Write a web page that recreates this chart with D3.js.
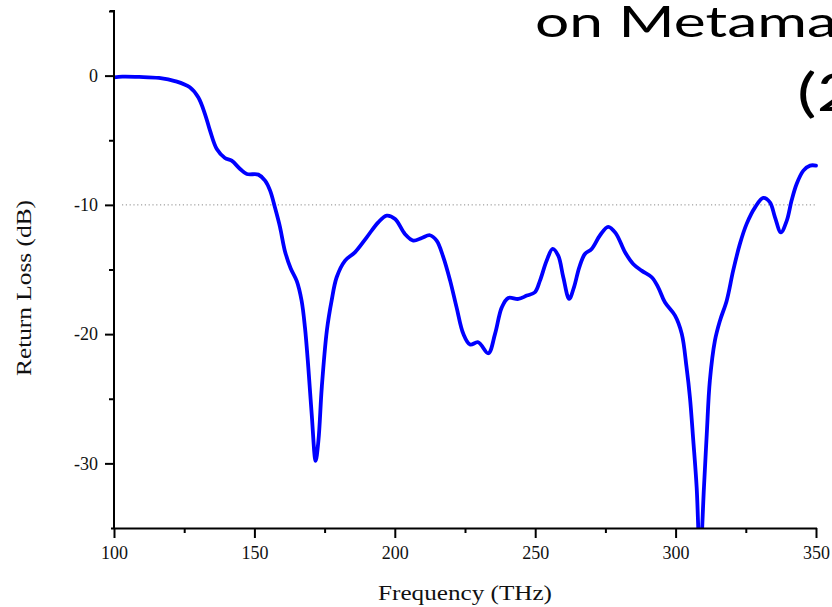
<!DOCTYPE html>
<html>
<head>
<meta charset="utf-8">
<script src="https://cdn.jsdelivr.net/npm/d3@7"></script>
<style>
  html, body { margin: 0; padding: 0; background: #fff; overflow: hidden; }
  svg { display: block; }
</style>
</head>
<body>
<svg id="chart" width="832" height="607"></svg>
<script>
// ---- Data ----
const frequency = [100, 103, 109, 116, 122, 127, 130, 132.4, 134.2, 136.6, 139.5, 141.9, 144.9, 147.3, 151.4, 153.8, 155.6, 157.3, 159.1, 160.9, 162.9, 165.1, 166.8, 168, 169.2, 170.4, 171.8, 172.8, 174, 175.8, 177.5, 179.3, 182.3, 185.8, 190, 194.1, 197.1, 200.1, 203.6, 206.6, 209.6, 212.5, 214.9, 217.3, 219.7, 222, 224.4, 226.8, 229.7, 233.3, 235.7, 238.1, 240.4, 244, 247, 249.9, 251.7, 254.1, 256.2, 258.2, 260, 262.1, 263.8, 265.7, 267.7, 270.1, 273.1, 276, 278.7, 282, 284.9, 287.9, 291.5, 293.8, 296.2, 299.8, 302.2, 303.9, 305.1, 306.3, 307.5, 308.7, 310.1, 311.1, 312.2, 314, 315.8, 318.2, 320.5, 322.9, 325.3, 328.3, 331.2, 333.6, 335.4, 337.5, 339.6, 341.3, 343.1, 345.5, 347.9, 350];
const returnLoss = [-0.13, -0.08, -0.1, -0.18, -0.44, -0.9, -1.68, -2.97, -4.26, -5.68, -6.37, -6.58, -7.22, -7.61, -7.66, -8.12, -8.9, -10.19, -11.7, -13.6, -14.9, -15.9, -17.4, -19.47, -22.57, -26.17, -29.8, -28.24, -24.11, -19.73, -17.41, -15.6, -14.31, -13.67, -12.51, -11.35, -10.83, -11.09, -12.25, -12.77, -12.56, -12.35, -12.77, -14.06, -15.86, -17.93, -19.98, -20.81, -20.63, -21.48, -19.98, -17.93, -17.2, -17.28, -17.02, -16.76, -15.86, -14.31, -13.41, -13.93, -15.6, -17.28, -16.38, -14.83, -13.8, -13.41, -12.35, -11.7, -12.2, -13.67, -14.57, -15.09, -15.6, -16.38, -17.54, -18.57, -19.98, -22.57, -24.89, -28.24, -31.85, -37.5, -31.85, -27.72, -23.6, -20.5, -18.96, -17.41, -15.09, -13.02, -11.47, -10.19, -9.46, -9.8, -10.96, -12.12, -11.22, -9.67, -8.38, -7.35, -6.96, -6.96];
const xTicks = [100, 150, 200, 250, 300, 350];
const xMinorTicks = [125, 175, 225, 275, 325];
const yTicks = [0, -10, -20, -30];
const yMinorTicks = [5, -5, -15, -25];
const referenceLevel = -10;
const xDomain = [100, 350];
const yDomain = [-35, 5];
const titleLines = ["on Metama", "(2"];

// ---- Layout ----
const svg = d3.select("#chart");
const plot = { left: 114, right: 816, top: 11, bottom: 528 };

const x = d3.scaleLinear().domain(xDomain).range([plot.left, plot.right]);
const y = d3.scaleLinear().domain(yDomain).range([plot.bottom, plot.top]);

const serif = "'Liberation Serif', 'Times New Roman', serif";
const fmt = d => String(d);

// Clip
svg.append("defs").append("clipPath").attr("id", "clip")
  .append("rect")
  .attr("x", plot.left).attr("y", plot.top)
  .attr("width", plot.right - plot.left + 2)
  .attr("height", plot.bottom - plot.top);

// Reference dotted line at -10 dB
svg.append("line")
  .attr("x1", plot.left + 8).attr("x2", plot.right)
  .attr("y1", y(referenceLevel)).attr("y2", y(referenceLevel))
  .attr("stroke", "#8a8a8a")
  .attr("stroke-width", 1)
  .attr("stroke-dasharray", "1.2,2.6");

// Curve
const data = frequency.map((f, i) => ({ f, v: returnLoss[i] }));
const line = d3.line()
  .x(d => x(d.f))
  .y(d => y(d.v))
  .curve(d3.curveCatmullRom.alpha(0.5));

svg.append("path")
  .datum(data)
  .attr("clip-path", "url(#clip)")
  .attr("fill", "none")
  .attr("stroke", "#0000ff")
  .attr("stroke-width", 3.8)
  .attr("stroke-linejoin", "round")
  .attr("stroke-linecap", "round")
  .attr("d", line);

// X axis
const xAxis = svg.append("g")
  .attr("transform", `translate(0,${plot.bottom})`)
  .call(d3.axisBottom(x).tickValues(xTicks).tickSize(10).tickPadding(8).tickFormat(fmt));
svg.append("g")
  .attr("transform", `translate(0,${plot.bottom})`)
  .call(d3.axisBottom(x).tickValues(xMinorTicks).tickSize(5).tickFormat(""))
  .call(g => g.select(".domain").remove());

// Y axis
const yAxis = svg.append("g")
  .attr("transform", `translate(${plot.left},0)`)
  .call(d3.axisLeft(y).tickValues(yTicks).tickSize(9).tickPadding(7).tickFormat(fmt));
svg.append("g")
  .attr("transform", `translate(${plot.left},0)`)
  .call(d3.axisLeft(y).tickValues(yMinorTicks).tickSize(5).tickFormat(""))
  .call(g => g.select(".domain").remove());

svg.selectAll(".domain").attr("stroke", "#000").attr("stroke-width", 2);
svg.selectAll(".tick line").attr("stroke", "#000").attr("stroke-width", 2);
svg.selectAll(".tick text")
  .attr("fill", "#111")
  .style("font-family", serif)
  .style("font-size", "18px");

xAxis.select(".domain").attr("d", `M${plot.left - 3},0.5H${plot.right + 1}`);
yAxis.select(".domain").attr("d", `M-4,${plot.top}H0V${plot.bottom}`);

// Axis titles
svg.append("text")
  .attr("x", 378).attr("y", 600)
  .attr("textLength", 174)
  .attr("lengthAdjust", "spacingAndGlyphs")
  .style("font-family", serif)
  .style("font-size", "21px")
  .attr("fill", "#111")
  .text("Frequency (THz)");

svg.append("text")
  .attr("transform", "translate(31,376) rotate(-90)")
  .attr("textLength", 176)
  .attr("lengthAdjust", "spacingAndGlyphs")
  .style("font-family", serif)
  .style("font-size", "21px")
  .attr("fill", "#111")
  .text("Return Loss (dB)");

// Slide title fragment (cut off at right edge, as in the reference)
svg.append("text")
  .attr("x", 535).attr("y", 37)
  .attr("textLength", 302)
  .attr("lengthAdjust", "spacingAndGlyphs")
  .style("font-family", "Lato, 'Open Sans', sans-serif")
  .style("font-size", "43px")
  .attr("fill", "#000")
  .text(titleLines[0]);
svg.append("text")
  .attr("x", 797).attr("y", 111)
  .attr("textLength", 62)
  .attr("lengthAdjust", "spacingAndGlyphs")
  .style("font-family", "Lato, 'Open Sans', sans-serif")
  .style("font-size", "52px")
  .attr("fill", "#000")
  .text(titleLines[1]);
</script>
</body>
</html>
